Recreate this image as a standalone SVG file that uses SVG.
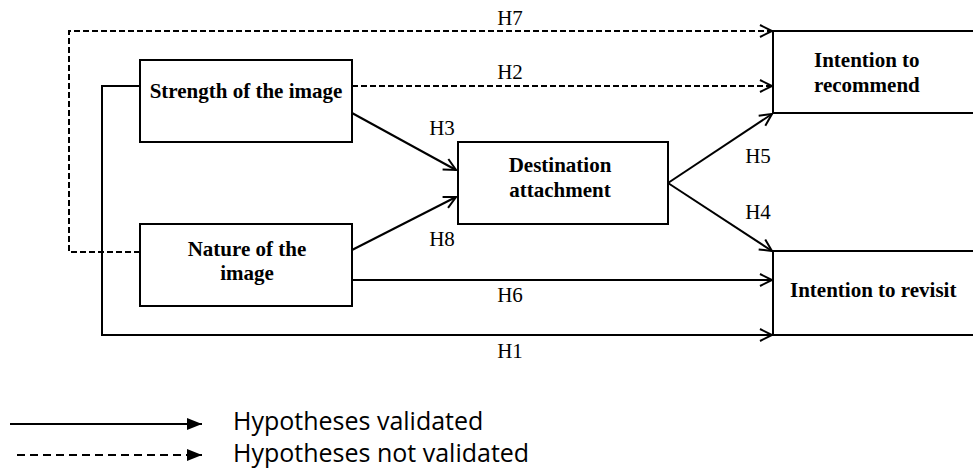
<svg xmlns="http://www.w3.org/2000/svg" width="973" height="470" viewBox="0 0 973 470">
<style>
.box{fill:#fff;stroke:#000;stroke-width:2}
.lbl{font-family:"Liberation Serif","Times New Roman",serif;font-weight:bold;font-size:21px;fill:#000}
.h{font-family:"Liberation Serif","Times New Roman",serif;font-size:21px;fill:#000;text-anchor:middle}
.c{fill:none;stroke:#000;stroke-width:2}
.d{stroke-dasharray:6 3}
.leg{font-family:"Open Sans","Noto Sans",sans-serif;font-size:25px;fill:#000}
</style>
<defs>
<marker id="open" markerUnits="userSpaceOnUse" markerWidth="16" markerHeight="16" refX="13" refY="7" orient="auto" overflow="visible">
<path d="M1,1 L13,7 L1,13" fill="none" stroke="#000" stroke-width="2" stroke-dasharray="none"/>
</marker>
<marker id="solidtri" markerUnits="userSpaceOnUse" markerWidth="16" markerHeight="14" refX="15" refY="6" orient="auto" overflow="visible">
<path d="M0,0 L15,6 L0,12 Z" fill="#000" stroke="none"/>
</marker>
</defs>

<g id="connectors">
<path class="c d" d="M140,252 H69 V31 H772" marker-end="url(#open)"/>
<path class="c d" d="M352,86 H772" marker-end="url(#open)"/>
<path class="c" d="M140,86 H102 V335 H772" marker-end="url(#open)"/>
<path class="c" d="M352,113 L456,170" marker-end="url(#open)"/>
<path class="c" d="M352,250 L456,197" marker-end="url(#open)"/>
<path class="c" d="M668,183 L772,114" marker-end="url(#open)"/>
<path class="c" d="M668,183 L772,251" marker-end="url(#open)"/>
<path class="c" d="M352,280 H772" marker-end="url(#open)"/>
<text class="h" x="510" y="25">H7</text>
<text class="h" x="510" y="79">H2</text>
<text class="h" x="442" y="135">H3</text>
<text class="h" x="442" y="246">H8</text>
<text class="h" x="758" y="163">H5</text>
<text class="h" x="758" y="219">H4</text>
<text class="h" x="510" y="302">H6</text>
<text class="h" x="510" y="358">H1</text>
</g>

<g id="strength">
<rect class="box" x="140" y="60" width="212" height="82"/>
<text class="lbl" x="246" y="98" text-anchor="middle">Strength of the image</text>
</g>
<g id="nature">
<rect class="box" x="140" y="224" width="212" height="82"/>
<text class="lbl" x="247" y="256" text-anchor="middle">Nature of the</text>
<text class="lbl" x="247" y="280" text-anchor="middle">image</text>
</g>
<g id="attachment">
<rect class="box" x="458" y="142" width="210" height="82"/>
<text class="lbl" x="560" y="172" text-anchor="middle">Destination</text>
<text class="lbl" x="560" y="197" text-anchor="middle">attachment</text>
</g>
<g id="recommend">
<rect class="box" x="773" y="31" width="220" height="82"/>
<text class="lbl" x="814" y="67">Intention to</text>
<text class="lbl" x="814" y="92">recommend</text>
</g>
<g id="revisit">
<rect class="box" x="773" y="251" width="220" height="84"/>
<text class="lbl" x="790" y="297">Intention to revisit</text>
</g>

<g id="legend">
<path class="c" d="M10,424 H202" marker-end="url(#solidtri)"/>
<path class="c" d="M17,455 H202" style="stroke-dasharray:8 5" marker-end="url(#solidtri)"/>
<text class="leg" x="233" y="430">Hypotheses validated</text>
<text class="leg" x="233" y="462">Hypotheses not validated</text>
</g>
</svg>
